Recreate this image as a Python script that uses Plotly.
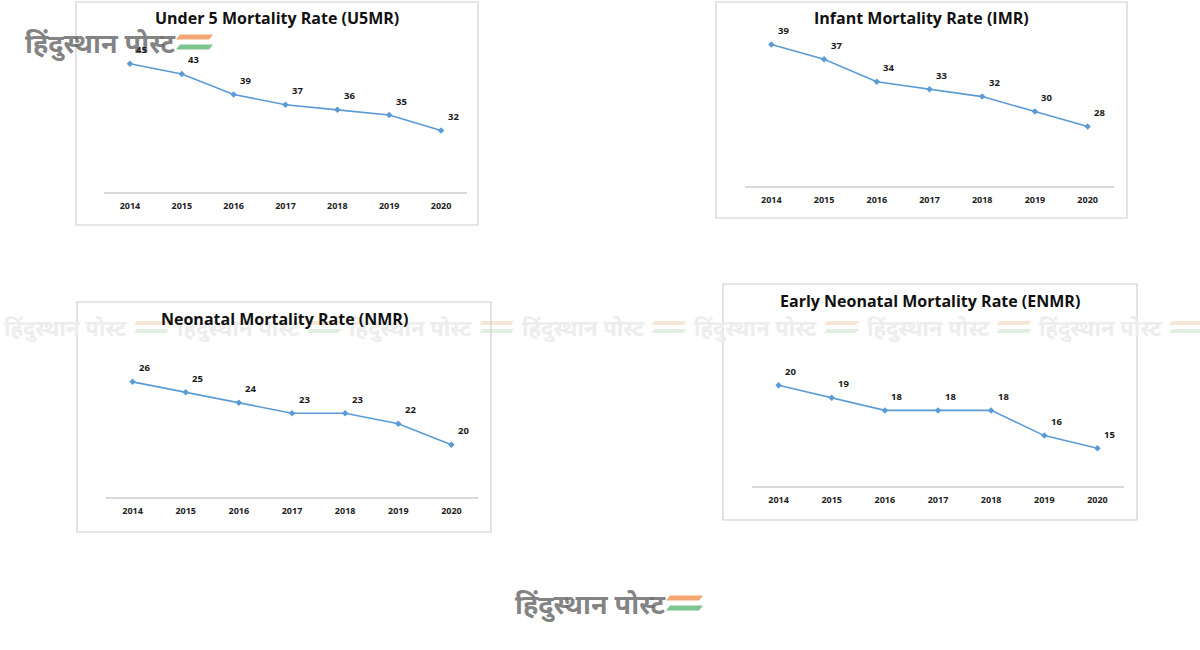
import plotly.graph_objects as go

W, H = 1200, 650

years = ["2014", "2015", "2016", "2017", "2018", "2019", "2020"]
u5mr = [45, 43, 39, 37, 36, 35, 32]
imr = [39, 37, 34, 33, 32, 30, 28]
nmr = [26, 25, 24, 23, 23, 22, 20]
enmr = [20, 19, 18, 18, 18, 16, 15]

titles = ["Under 5 Mortality Rate (U5MR)", "Infant Mortality Rate (IMR)",
          "Neonatal Mortality Rate (NMR)", "Early Neonatal Mortality Rate (ENMR)"]
series = [u5mr, imr, nmr, enmr]
yranges = [[20, 50], [20, 40], [15, 30], [12, 22]]

# layout in pixels: plot area (left, right, top, bottom), frame box, title position
plots = [(104, 467, 38, 192), (745, 1114, 37, 186), (106, 478, 340, 497), (752, 1124, 360, 486)]
boxes = [(76, 478, 2, 225), (716, 1127, 2, 218), (77, 491, 302, 532), (723, 1137, 284, 520)]
title_pos = [(277, 18), (921, 18), (284, 319), (930, 301)]

def px(x):
    return x / W

def py(y):
    return 1 - y / H

fig = go.Figure()
shapes = []
annotations = []

LINE = "#5B9BD5"
GRID = "#D9D9D9"

# watermarks (drawn first so chart texts sit on top)
wm_text = "<b>हिंदुस्थान पोस्ट</b>"
for i in range(7):
    x0 = i * 172.5
    annotations.append(dict(x=px(x0 + 2), y=py(327), xref="paper", yref="paper", text=wm_text,
                            showarrow=False, xanchor="left", yanchor="middle",
                            font=dict(size=22, color="#EDEDED", family="Noto Sans")))
    for dy, col in [(-4, "#F7E5D6"), (4, "#E0EFE0")]:
        yy = 327 + dy
        shapes.append(dict(type="path", xref="paper", yref="paper", layer="below",
                           path=f"M {px(x0+134)} {py(yy+2)} L {px(x0+166)} {py(yy+2)} L {px(x0+169)} {py(yy-2)} L {px(x0+137)} {py(yy-2)} Z",
                           fillcolor=col, line=dict(width=0)))

# logos
for (lx, ly, sz) in [(23, 42, 27), (513, 603, 27)]:
    annotations.append(dict(x=px(lx), y=py(ly), xref="paper", yref="paper", text=wm_text,
                            showarrow=False, xanchor="left", yanchor="middle",
                            font=dict(size=sz, color="rgba(110,110,110,0.85)", family="Noto Sans")))
    for dy, col in [(-5, "#F4A672"), (5, "#7DC48E")]:
        yy = ly + dy
        x0 = lx + 153
        shapes.append(dict(type="path", xref="paper", yref="paper",
                           path=f"M {px(x0)} {py(yy+2.5)} L {px(x0+33)} {py(yy+2.5)} L {px(x0+37)} {py(yy-2.5)} L {px(x0+4)} {py(yy-2.5)} Z",
                           fillcolor=col, line=dict(width=0)))

for k in range(4):
    l, r, t, b = plots[k]
    ax = "" if k == 0 else str(k + 1)
    fig.add_trace(go.Scatter(x=years, y=series[k], mode="lines+markers",
                             line=dict(color=LINE, width=1.6),
                             marker=dict(symbol="diamond", size=5, color=LINE),
                             xaxis="x" + ax, yaxis="y" + ax, showlegend=False,
                             cliponaxis=False, hoverinfo="x+y"))
    fig.update_layout(**{
        "xaxis" + ax: dict(domain=[px(l), px(r)], anchor="y" + ax, type="category",
                           range=[-0.5, 6.5], showgrid=False, zeroline=False,
                           showline=True, linecolor=GRID, linewidth=1.5, ticks="",
                           tickfont=dict(family="Open Sans", size=9, color="#222222", weight="bold"),
                           ticklabelstandoff=4),
        "yaxis" + ax: dict(domain=[py(b), py(t)], anchor="x" + ax, range=yranges[k],
                           showgrid=False, zeroline=False, showline=False,
                           showticklabels=False, ticks=""),
    })
    for i, v in enumerate(series[k]):
        annotations.append(dict(x=i, y=v, xref="x" + ax, yref="y" + ax, text=f"<b>{v}</b>",
                                showarrow=False, xshift=12, yshift=14,
                                font=dict(family="Open Sans", size=9.5, color="#1a1a1a")))
    bl, br, bt, bb = boxes[k]
    shapes.append(dict(type="rect", xref="paper", yref="paper", x0=px(bl), x1=px(br),
                       y0=py(bb), y1=py(bt), line=dict(color="#D0D0D0", width=1.2),
                       fillcolor="rgba(0,0,0,0)"))
    tx, ty = title_pos[k]
    annotations.append(dict(x=px(tx), y=py(ty), xref="paper", yref="paper",
                            text=f"<b>{titles[k]}</b>", showarrow=False,
                            xanchor="center", yanchor="middle",
                            font=dict(family="Open Sans", size=16, color="#111111")))

fig.update_layout(width=W, height=H, margin=dict(l=0, r=0, t=0, b=0),
                  paper_bgcolor="white", plot_bgcolor="rgba(0,0,0,0)",
                  shapes=shapes, annotations=annotations)

fig.write_html("out.html")
